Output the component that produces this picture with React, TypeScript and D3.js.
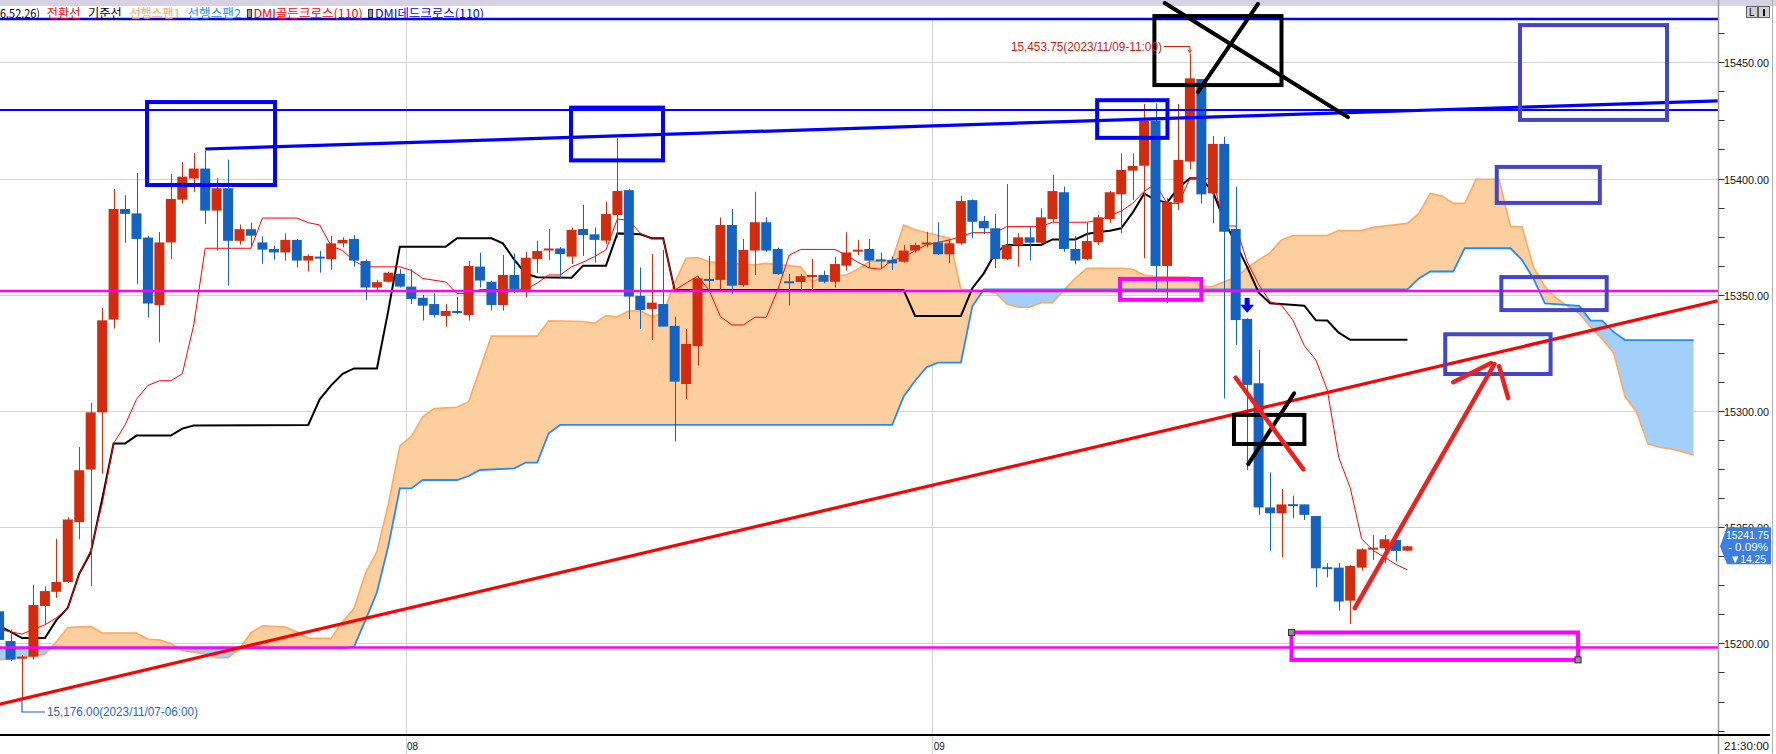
import React from "react";
import * as d3 from "d3";

// 30-minute bars: [open, high, low, close]
const bars: [number, number, number, number][] = [
  [15213.8, 15215, 15199, 15201.5], [15201, 15206, 15192.3, 15193], [15193.8, 15195, 15176, 15194.3],
  [15194.3, 15225.3, 15193, 15216.5], [15216.1, 15224.5, 15208.4, 15222.5], [15222.2, 15245, 15219.6, 15226.4],
  [15226.4, 15254.2, 15226, 15253.3], [15252.2, 15284.5, 15244.8, 15274.5], [15274.8, 15303.4, 15224.6, 15299.4],
  [15299.4, 15344.4, 15273, 15339], [15339.3, 15395.5, 15335.5, 15386.9], [15386.9, 15392.8, 15372.4, 15384.8],
  [15385, 15402.4, 15354.7, 15374], [15374.6, 15375.4, 15340.2, 15346.2], [15345.6, 15377, 15329.5, 15372.5],
  [15372.5, 15402, 15365.4, 15391.2], [15390.9, 15407, 15389.3, 15400.8], [15400, 15410.9, 15394.3, 15404.3],
  [15404.3, 15412, 15380.5, 15386.2], [15386.2, 15400.1, 15369, 15395.8], [15395.8, 15408.1, 15353.9, 15373.2],
  [15373.2, 15380.2, 15371.6, 15378.2], [15378.2, 15381, 15370.8, 15375.4], [15372.5, 15375.1, 15363.3, 15369.4],
  [15369.7, 15371, 15365.1, 15368.2], [15368.2, 15376.3, 15364.7, 15373.6], [15373.6, 15374, 15361.7, 15364.7],
  [15364.7, 15367.4, 15360, 15366.7], [15366.4, 15368.8, 15359.5, 15365.7], [15365.3, 15375.3, 15360.7, 15372.1],
  [15372.1, 15374.7, 15370.4, 15373.6], [15374, 15375.7, 15362.1, 15364.7], [15364.5, 15365.2, 15347.8, 15353.1],
  [15353.1, 15356.4, 15352, 15355.4], [15355.6, 15359.9, 15355.3, 15359.5], [15359, 15361, 15353.1, 15353.5],
  [15353.5, 15361, 15346, 15348.2], [15348.7, 15349.9, 15338.9, 15345.3], [15346, 15350.6, 15340.2, 15341.3],
  [15340.9, 15346, 15336.3, 15343], [15343, 15349.2, 15341.6, 15342.3], [15341.3, 15364.5, 15338.9, 15362.4],
  [15362.1, 15368.1, 15353.1, 15356.1], [15355.6, 15356.1, 15343.2, 15345.6], [15345.6, 15367.1, 15343.2, 15358.5],
  [15358.5, 15367.8, 15350.6, 15352.5], [15352.1, 15368.5, 15348.8, 15365.9], [15365.4, 15373.1, 15359.5, 15368.8],
  [15369.2, 15378.3, 15365, 15369.9], [15369.9, 15370.5, 15357.1, 15367.5], [15366.4, 15378.9, 15363.2, 15377.9],
  [15378.3, 15388.6, 15366.7, 15375.7], [15376, 15378.9, 15363.8, 15373.6], [15373.3, 15390, 15371.8, 15384.7],
  [15384.3, 15417.3, 15374.7, 15394.6], [15395, 15395.5, 15339.6, 15349.2], [15349.5, 15361.7, 15335.3, 15343.4],
  [15343.9, 15367.5, 15330.5, 15346.6], [15346, 15369.3, 15336.3, 15336.3], [15336.6, 15340.6, 15286.8, 15312.6],
  [15311.6, 15335.3, 15305.2, 15328.8], [15327.9, 15358, 15319.5, 15357.1], [15356.8, 15366.7, 15351.8, 15356.4],
  [15356.4, 15383.2, 15352.1, 15380], [15380, 15386.9, 15350.3, 15353.9], [15354.2, 15374, 15353.5, 15369.3],
  [15369, 15394.3, 15358.5, 15381.2], [15381.2, 15383.3, 15368.5, 15369], [15369.7, 15370.3, 15358.5, 15358.9],
  [15355.8, 15358.9, 15345.3, 15355.5], [15355.5, 15358.9, 15352, 15358], [15357.8, 15365.4, 15352, 15358.5],
  [15358.5, 15360.4, 15354.9, 15355.6], [15355.6, 15366.4, 15353.1, 15363.2], [15362.5, 15376.9, 15360.4, 15368.2],
  [15369.2, 15373.6, 15367.1, 15369.4], [15369.7, 15374, 15361.6, 15364.7], [15365.2, 15368.1, 15361.4, 15364.5],
  [15364.9, 15366.4, 15360.7, 15363.5], [15364.2, 15371.4, 15363.8, 15369], [15369, 15372.4, 15368.1, 15371.4],
  [15372.3, 15377.1, 15370.4, 15372.5], [15372.5, 15381.2, 15367.1, 15367.4], [15367.4, 15373.8, 15363.5, 15372.1],
  [15372.1, 15392.5, 15371.4, 15390.3], [15390.7, 15391, 15374.3, 15381.4], [15381.7, 15383.9, 15376.1, 15378.6],
  [15378.6, 15384.7, 15361.4, 15365.4], [15365.4, 15397.6, 15364.9, 15371.4], [15371.4, 15376.4, 15362.1, 15374.7],
  [15374.7, 15379, 15364.7, 15372.4], [15372.4, 15387.2, 15372.1, 15383.3], [15382.6, 15401.5, 15381.2, 15394.6],
  [15394.1, 15396.5, 15368.5, 15369.7], [15369.7, 15375.4, 15363.1, 15364.7], [15365.4, 15381, 15364.9, 15373.1],
  [15372.6, 15384.3, 15371.4, 15383.3], [15382.6, 15394.6, 15381, 15394.1], [15393.2, 15410.8, 15376.4, 15403.7],
  [15403.4, 15410.8, 15390.8, 15405.4], [15405.5, 15432.1, 15365.7, 15424.9], [15424.9, 15432.3, 15352.3, 15362.4],
  [15362.4, 15391.5, 15346.3, 15390], [15389.6, 15432.1, 15386.5, 15408], [15407.3, 15453.75, 15404, 15443.1],
  [15442.8, 15442.8, 15389.3, 15393.2], [15393.6, 15418.3, 15380.7, 15414.9], [15414.9, 15418, 15305.4, 15377.1],
  [15378.3, 15396.5, 15328.4, 15339.1], [15339.6, 15339.9, 15274.6, 15311.2], [15311.9, 15326.2, 15255.3, 15258.5],
  [15258.5, 15273.6, 15239.9, 15256], [15256, 15266.4, 15237, 15259.8], [15259.9, 15263.6, 15253.8, 15259.5],
  [15259.8, 15259.8, 15253.1, 15255.3], [15254.8, 15254.8, 15224.1, 15232.3], [15232.8, 15234.5, 15228.4, 15232.5],
  [15232.6, 15234.5, 15214.1, 15218], [15218.4, 15233.7, 15208.4, 15233.3], [15232.6, 15240.9, 15231.3, 15240.5],
  [15241.1, 15246.6, 15235.9, 15241.2], [15240.9, 15246.6, 15234.5, 15244.8], [15244.5, 15244.5, 15235.2, 15239.8],
  [15239.9, 15242, 15239.7, 15241.75],
];

// ichimoku lines: [bar index, price]
const tenkan: [number, number][] = [
  [0, 15206], [1, 15205], [2, 15204], [3, 15206], [4, 15208], [5, 15211], [6, 15215], [7, 15230], [8, 15240],
  [9, 15260], [10, 15286], [11, 15294], [12, 15305], [13, 15311], [14, 15313], [15, 15313], [16, 15316],
  [17, 15337], [18, 15370], [22, 15370], [23, 15383], [26, 15383], [27, 15381], [28, 15380], [29, 15371],
  [30, 15369], [31, 15364.5], [32, 15362], [35, 15362], [36, 15360.5], [37, 15357], [39, 15355.5], [40, 15350.5],
  [41, 15350.5], [42, 15352.2], [46, 15352.4], [47, 15355], [48, 15358.5], [49, 15358.5], [50, 15362], [51, 15364],
  [52, 15366.4], [53, 15369.3], [54, 15382.6], [55, 15382], [56, 15376.5], [57, 15374], [58, 15374], [59, 15352],
  [60, 15355], [61, 15358], [62, 15352], [63, 15340.6], [64, 15337], [65, 15337], [66, 15340.3], [67, 15340.3],
  [68, 15352], [69, 15367], [70, 15369.5], [73, 15369.5], [74, 15367], [75, 15364], [76, 15361.5], [77, 15361],
  [78, 15364.9], [79, 15366], [80, 15369], [81, 15371.5], [82, 15372.5], [83, 15373.6], [84, 15375], [85, 15376.7],
  [87, 15376.7], [88, 15379.3], [91, 15379.3], [92, 15381.2], [95, 15381.2], [96, 15382], [97, 15384], [98, 15386],
  [99, 15389.3], [100, 15394.5], [101, 15397.7], [102, 15389.3], [103, 15389.3], [104, 15400], [106, 15400],
  [107, 15379.6], [108, 15379.6], [109, 15364.2], [110, 15354.5], [111, 15347], [112, 15345.5], [113, 15339],
  [114, 15328], [115, 15322], [116, 15309], [117, 15280], [118, 15267], [119, 15245], [120, 15240], [121, 15237],
  [122, 15234], [123, 15231.6],
];

const kijun: [number, number][] = [
  [0, 15207.6], [2, 15202.3], [4, 15202.3], [5, 15210], [6, 15215.3], [7, 15230], [8, 15239], [9, 15262],
  [10, 15286], [11, 15286], [12, 15289.4], [15, 15289.4], [16, 15292.4], [17, 15293.7], [27, 15294], [28, 15305],
  [29, 15311], [30, 15316], [31, 15318.3], [33, 15318.3], [34, 15343.4], [35, 15370.7], [39, 15370.7],
  [40, 15374.3], [43, 15374.3], [44, 15372.1], [45, 15365], [46, 15359], [47, 15357.5], [50, 15357.3],
  [51, 15362.5], [53, 15362.5], [54, 15376.4], [56, 15376], [57, 15374.3], [58, 15374.3], [59, 15352], [79, 15352],
  [80, 15340.9], [84, 15340.9], [85, 15352.8], [86, 15359.2], [87, 15368], [88, 15371.4], [91, 15371.4],
  [92, 15373.8], [94, 15373.8], [95, 15376.1], [96, 15377], [97, 15377.5], [98, 15378.6], [99, 15385.3],
  [100, 15393.5], [101, 15390.8], [102, 15389.6], [103, 15396], [104, 15400.1], [105, 15400], [106, 15394.4],
  [107, 15382], [108, 15372], [109, 15362], [110, 15351], [111, 15346.3], [114, 15345.3], [115, 15339],
  [116, 15338.9], [117, 15333.7], [118, 15330.6], [123, 15330.6],
];

const span1: [number, number][] = [
  [0, 15193], [2, 15194], [4, 15195.3], [5, 15200.7], [6, 15206.8], [8, 15207.3], [9, 15204.5], [12, 15204.5],
  [13, 15201.8], [14, 15201.5], [15, 15200], [16, 15196.9], [18, 15195.5], [19, 15193.8], [20, 15193.8],
  [21, 15197.6], [22, 15204.6], [23, 15207.6], [25, 15207], [26, 15205], [27, 15202.2], [29, 15202.2],
  [30, 15209.3], [31, 15215.1], [32, 15230.2], [33, 15239.5], [34, 15260], [35, 15285], [36, 15289],
  [37, 15297.5], [38, 15301], [40, 15301.6], [41, 15304], [42, 15318], [43, 15332.2], [47, 15332.2],
  [48, 15338.8], [51, 15338.5], [52, 15337.7], [53, 15341], [54, 15340.5], [55, 15343], [56, 15343],
  [57, 15340.6], [58, 15342], [59, 15355], [60, 15365.7], [61, 15366], [62, 15364.2], [66, 15362.8],
  [67, 15363.5], [70, 15362], [71, 15355.6], [72, 15357.8], [74, 15358.5], [75, 15361], [76, 15364.2],
  [78, 15364.9], [79, 15380], [80, 15378], [81, 15376.7], [83, 15374.3], [84, 15352.3], [86, 15351.8],
  [87, 15351], [88, 15346], [89, 15344.6], [90, 15344.6], [91, 15346.6], [92, 15346.6], [93, 15352],
  [94, 15357.1], [95, 15361.4], [98, 15361.4], [99, 15361], [100, 15358.5], [101, 15357.8], [104, 15357.5],
  [105, 15353.5], [106, 15353.5], [107, 15355.6], [108, 15357.5], [109, 15361.5], [110, 15365], [111, 15368],
  [112, 15373.6], [113, 15375.5], [116, 15375.5], [117, 15377.6], [119, 15377.6], [120, 15379], [123, 15380.7],
  [124, 15385], [125, 15393.6], [126, 15392.5], [127, 15389.3], [128, 15389.3], [129, 15399.7], [131, 15399.7],
  [132, 15379.3], [133, 15379.3], [134, 15362], [135, 15353.5], [136, 15348.5], [137, 15345], [138, 15342],
  [139, 15336], [140, 15331], [141, 15325], [142, 15306.2], [143, 15299.7], [144, 15285.8], [145, 15284.4],
  [146, 15283.6], [147, 15282.5], [148, 15281.1],
];

const span2: [number, number][] = [
  [0, 15197.8], [30, 15197.8], [31, 15198.6], [32, 15210], [33, 15222], [34, 15242], [35, 15266.7],
  [36, 15266.7], [37, 15270.3], [40, 15270.3], [41, 15272], [42, 15274.6], [45, 15275.3], [46, 15277.8],
  [47, 15277.8], [48, 15290.4], [49, 15294], [78, 15294], [79, 15306.2], [80, 15313], [81, 15318.8],
  [82, 15320.8], [84, 15320.8], [85, 15345], [86, 15352.3], [123, 15352.3], [124, 15357], [125, 15360],
  [127, 15360], [128, 15370], [132, 15370], [133, 15365], [134, 15357], [135, 15346.3], [138, 15345.2],
  [139, 15338.9], [140, 15338.9], [141, 15334], [142, 15330.5], [148, 15330.5],
];

const priceLabels = [15200, 15250, 15300, 15350, 15400, 15450];
const dayBreaks: [number, string][] = [[35.5, "08"], [81.5, "09"]];
const lastTimeLabel = "21:30:00";
const lastPrice = 15241.75;
const lastChangePct = "- 0.09%";
const lastChange = "▼14.25";
const legendLabels = ["6.52.26)", "전환선", "기준선", "선행스팬1", "선행스팬2", "DMI골든크로스(110)", "DMI데드크로스(110)"];
const lowMark = { i: 2, price: 15176, text: "15,176.00(2023/11/07-06:00)" };
const highMark = { i: 104, price: 15453.75, text: "15,453.75(2023/11/09-11:00)" };

// user drawings, in [bar index, price]
const blueLevels = [15468.6, 15429.5];
const magentaLevels = [15351.6, 15198.2];
const blueTrend: [number, number][] = [[18, 15412.7], [150.1, 15433.4]];
const redTrend: [number, number][] = [[-0.1, 15173.7], [150.1, 15347.4]];
const blueBoxes = [[12.92, 15432.9, 24.1, 15397.2], [49.95, 15430.5, 57.98, 15407.8], [95.9, 15433.7, 102.04, 15417.5]];
const slateBoxes = [[132.83, 15466, 145.67, 15425.2], [130.8, 15405, 139.8, 15389.5], [131.2, 15357.6, 140.4, 15343.4], [126.3, 15333, 135.5, 15315.9]];
const magentaBoxes = [[97.9, 15356.8, 105.0, 15347.8], [112.87, 15204.7, 137.9, 15192.9]];
const blackBoxes = [[100.9, 15469.9, 112.0, 15440.2], [107.85, 15298.3, 114.0, 15285.8]];
const blackStrokes = [[[101.8, 15475.5], [117.8, 15426.4]], [[109.95, 15475.1], [104.7, 15437.2]], [[109.1, 15277.1], [113.1, 15307.6]]];
const redStrokes = [
  [[108, 15314.3], [113.9, 15275.0]],
  [[118.4, 15215.2], [130.6, 15320.2]],
  [[127.0, 15312.4], [130.3, 15320.6]],
  [[131.0, 15319.3], [131.8, 15305.5]],
];
const signalArrow = { i: 109, price: 15342.2 };

const W = 1776;
const H = 754;
const AX = 1718.5;
const TOP = 20;
const BOTTOM = 735;

const x = d3.scaleLinear().domain([0, 150]).range([-0.9, 1716.6]);
const y = d3.scaleLinear().domain([15200, 15450]).range([643.4, 62.3]);

const UP = "#d22b0d";
const DOWN = "#1463c0";

const line = d3.line<[number, number]>().x((d) => x(d[0])).y((d) => y(d[1]));
const px = d3.line();

function edgePoly(pts: [number, number][], edge: number) {
  const p = pts.map((d) => [x(d[0]), y(d[1])] as [number, number]);
  return px([...p, [p[p.length - 1][0], edge], [p[0][0], edge]]) + "Z";
}

function boxRect(b: number[], key: string, color: string, width: number) {
  const x0 = x(b[0]), x1 = x(b[2]), y0 = y(b[1]), y1 = y(b[3]);
  return (
    <rect key={key} x={Math.min(x0, x1)} y={Math.min(y0, y1)} width={Math.abs(x1 - x0)} height={Math.abs(y1 - y0)}
      fill="none" stroke={color} strokeWidth={width} />
  );
}

export default function App() {
  const minorTicks = d3.range(15162.5, 15475, 12.5).filter((p) => y(p) > TOP && y(p) < BOTTOM);
  const legendX = [0, 46.7, 88, 129.4, 187.5, 253.4, 375];
  const legendW = [40, 33.7, 33.7, 51, 53.5, 109.4, 109];
  const legendColors = ["#000000", "#ff0000", "#000000", "#ffa35c", "#1e8cff", "#ff0000", "#0000ff"];
  const mono = "'Liberation Sans', Arial, sans-serif";
  const ly = y(lastPrice);

  return (
    <>
      <style>{`body{margin:0;background:#fff}`}</style>
      <svg width={W} height={H} style={{ display: "block", background: "#fff" }}>
        <defs>
          <clipPath id="plot"><rect x={0} y={TOP} width={AX} height={BOTTOM - TOP} /></clipPath>
          <clipPath id="aboveB"><path d={edgePoly(span2, 0)} /></clipPath>
          <clipPath id="belowB"><path d={edgePoly(span2, H)} /></clipPath>
        </defs>

        {/* header */}
        <rect x={0} y={0} width={W} height={6} fill="#d6d2e4" />
        <rect x={1737} y={0} width={12} height={4} fill="#eef2fb" stroke="#8090b0" strokeWidth={1} />
        <rect x={1752} y={0} width={16} height={5} fill="#c8c8c8" stroke="#808080" strokeWidth={1} />
        <g fontFamily={mono} fontSize={10}>
          <rect x={1746.5} y={6.5} width={11} height={11} fill="#d0d0d0" stroke="#606060" />
          <rect x={1758.5} y={6.5} width={11} height={11} fill="#d0d0d0" stroke="#606060" />
          <text x={1749} y={16}>L</text>
          <rect x={1763} y={9} width={2} height={7} fill="#000" />
        </g>

        {/* grid */}
        <g clipPath="url(#plot)">
          {priceLabels.map((p) => (
            <line key={p} x1={0} x2={AX} y1={Math.round(y(p)) + 0.5} y2={Math.round(y(p)) + 0.5} stroke="#d4d4d4" />
          ))}
        </g>
        {dayBreaks.map(([i, lab]) => (
          <line key={lab} x1={Math.round(x(i)) + 0.5} x2={Math.round(x(i)) + 0.5} y1={TOP} y2={H} stroke="#d4d4d4" />
        ))}

        {/* ichimoku cloud */}
        <g clipPath="url(#plot)">
          <path d={edgePoly(span1, H)} fill="#fdcf9f" clipPath="url(#aboveB)" />
          <path d={edgePoly(span1, 0)} fill="#a2d0fa" clipPath="url(#belowB)" />
          <path d={line(span1) ?? ""} fill="none" stroke="#ffa85e" strokeWidth={1.6} />
          <path d={line(span2) ?? ""} fill="none" stroke="#1e8cff" strokeWidth={1.8} />
          <path d={line(kijun) ?? ""} fill="none" stroke="#000" strokeWidth={2} />
          <path d={line(tenkan) ?? ""} fill="none" stroke="#ff0000" strokeWidth={1} />

          {/* candles */}
          {bars.map(([o, h, l, c], i) => {
            const col = c >= o ? UP : DOWN;
            const cx = x(i);
            const top = y(Math.max(o, c));
            const bh = Math.max(2, y(Math.min(o, c)) - top);
            return (
              <g key={i}>
                <line x1={Math.round(cx) + 0.5} x2={Math.round(cx) + 0.5} y1={y(h)} y2={y(l)} stroke={col} strokeWidth={1} />
                <rect x={cx - 5} y={top} width={10} height={bh} fill={col} />
              </g>
            );
          })}
        </g>

        {/* drawings */}
        {blueLevels.map((p, k) => (
          <line key={"bl" + k} x1={0} x2={AX} y1={y(p)} y2={y(p)} stroke="#0000ff" strokeWidth={k === 0 ? 2.5 : 2} />
        ))}
        {magentaLevels.map((p, k) => (
          <line key={"ml" + k} x1={0} x2={AX} y1={y(p)} y2={y(p)} stroke="#ff00ff" strokeWidth={2.5} />
        ))}
        <path d={line(blueTrend) ?? ""} stroke="#0000ff" strokeWidth={3.2} fill="none" />
        <path d={line(redTrend) ?? ""} stroke="#ff0000" strokeWidth={3.2} fill="none" />
        {blueBoxes.map((b, k) => boxRect(b, "bb" + k, "#0000ff", 4))}
        {slateBoxes.map((b, k) => boxRect(b, "sb" + k, "#4545c8", 4))}
        {magentaBoxes.map((b, k) => boxRect(b, "mb" + k, "#ff00ff", 4))}
        {blackBoxes.map((b, k) => boxRect(b, "kb" + k, "#000000", 4))}
        {blackStrokes.map((s, k) => (
          <path key={"ks" + k} d={line(s as [number, number][]) ?? ""} stroke="#000" strokeWidth={4} strokeLinecap="round" />
        ))}
        {redStrokes.map((s, k) => (
          <path key={"rs" + k} d={line(s as [number, number][]) ?? ""} stroke="#ee2020" strokeWidth={4.5} strokeLinecap="round" />
        ))}
        {[magentaBoxes[1]].map((b) => (
          <g key="handles" fill="#909090" stroke="#303030" strokeWidth={1}>
            <rect x={x(b[0]) - 3} y={y(b[1]) - 3} width={6} height={6} />
            <rect x={x(b[2]) - 3} y={y(b[3]) - 3} width={6} height={6} />
          </g>
        ))}
        {(() => {
          const ax = x(signalArrow.i);
          const ay = y(signalArrow.price);
          return (
            <g fill="#0000ff">
              <rect x={ax - 2.5} y={ay - 15} width={5} height={8} />
              <path d={`M${ax - 7},${ay - 8}L${ax + 7},${ay - 8}L${ax},${ay}Z`} />
            </g>
          );
        })()}

        {/* high / low marks */}
        {(() => {
          const hx = x(highMark.i);
          const hy = 46.5;
          const lx = x(lowMark.i);
          const lyy = 712;
          return (
            <g fontFamily={mono} fontSize={12}>
              <path d={`M${hx - 26},${hy}H${hx}V${y(highMark.price) - 1}`} stroke="#d02010" fill="none" strokeWidth={1} />
              <path d={`M${hx - 2},${y(highMark.price) - 4}L${hx},${y(highMark.price) - 1}L${hx + 2},${y(highMark.price) - 4}`} stroke="#d02010" fill="none" />
              <text x={hx - 28} y={hy} textAnchor="end" dominantBaseline="central" fill="#d02010" textLength={151} lengthAdjust="spacingAndGlyphs">
                {highMark.text}
              </text>
              <path d={`M${lx},${y(lowMark.price)}V${lyy}H${lx + 23}`} stroke="#1f64c8" fill="none" strokeWidth={1.2} />
              <text x={lx + 25} y={lyy} dominantBaseline="central" fill="#1f64c8" textLength={151} lengthAdjust="spacingAndGlyphs">
                {lowMark.text}
              </text>
            </g>
          );
        })()}

        {/* legend */}
        <g fontFamily="'Noto Sans CJK KR', sans-serif" fontSize={12}>
          {legendLabels.map((t, k) => (
            <text key={t} x={legendX[k]} y={18} fill={legendColors[k]} textLength={legendW[k]} lengthAdjust="spacingAndGlyphs">
              {t}
            </text>
          ))}
          {[247, 368].map((ix) => (
            <rect key={ix} x={ix + 0.5} y={9.5} width={4} height={8} fill="#9a9a9a" stroke="#303030" />
          ))}
        </g>

        {/* right axis */}
        <rect x={AX} y={0} width={W - AX} height={6} fill="#d6d2e4" />
        <line x1={AX} x2={AX} y1={0} y2={H} stroke="#9a9a9a" strokeWidth={1.5} />
        <line x1={1772.5} x2={1772.5} y1={0} y2={H} stroke="#b0b0b0" strokeWidth={1} />
        {minorTicks.map((p) => (
          <line key={p} x1={AX} x2={AX + 6} y1={Math.round(y(p)) + 0.5} y2={Math.round(y(p)) + 0.5} stroke="#333" />
        ))}
        <g fontFamily={mono} fontSize={11.5} fill="#111">
          {priceLabels.map((p) => (
            <text key={p} x={1724} y={y(p) + 1} dominantBaseline="central" textLength={45} lengthAdjust="spacingAndGlyphs">
              {d3.format(".2f")(p)}
            </text>
          ))}
        </g>
        <path d={`M1720,${ly}L1727,${ly - 19}H1771V${ly + 18}H1727Z`} fill="#3c7ee2" />
        <g fontFamily={mono} fontSize={11.5} fill="#fff" textAnchor="end">
          <text x={1769} y={ly - 11} dominantBaseline="central" textLength={43} lengthAdjust="spacingAndGlyphs">{d3.format(".2f")(lastPrice)}</text>
          <text x={1768} y={ly + 1} dominantBaseline="central" textLength={40} lengthAdjust="spacingAndGlyphs">{lastChangePct}</text>
          <text x={1766} y={ly + 12.5} dominantBaseline="central" textLength={36} lengthAdjust="spacingAndGlyphs">{lastChange}</text>
        </g>

        {/* time axis */}
        <line x1={0} x2={1770} y1={BOTTOM} y2={BOTTOM} stroke="#000" strokeWidth={2} />
        <g fontFamily={mono} fontSize={11.5} fill="#111">
          {dayBreaks.map(([i, lab]) => (
            <text key={lab} x={x(i) + 1.5} y={746} dominantBaseline="central" textLength={11} lengthAdjust="spacingAndGlyphs">{lab}</text>
          ))}
          <text x={1724} y={746} dominantBaseline="central" textLength={45} lengthAdjust="spacingAndGlyphs">{lastTimeLabel}</text>
        </g>
      </svg>
    </>
  );
}
